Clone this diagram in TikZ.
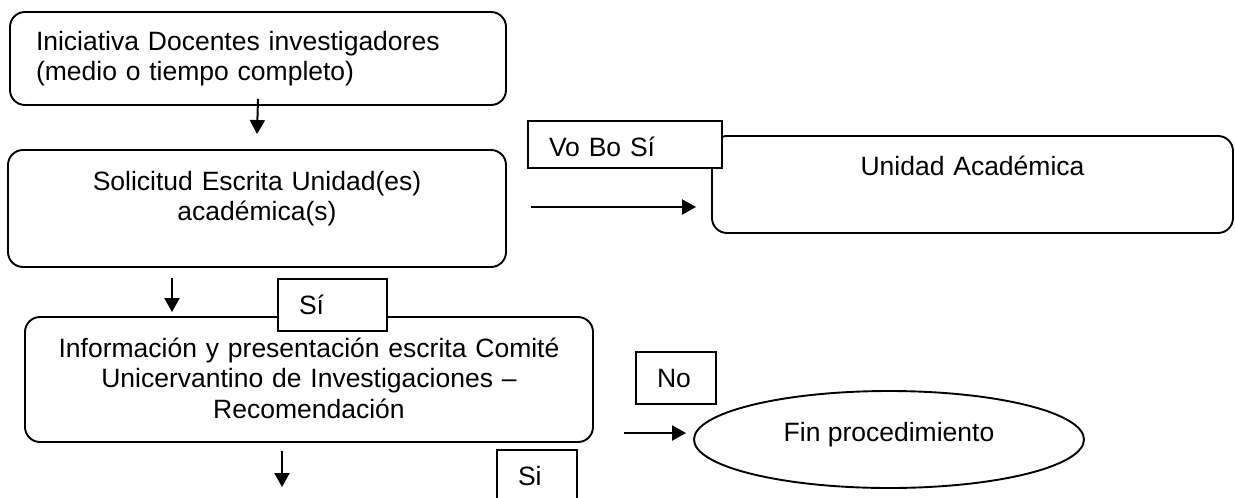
\documentclass[tikz,border=0pt]{standalone}
\usepackage{fontspec}
\setmainfont{Liberation Sans}
\usetikzlibrary{shapes.geometric,arrows.meta}
\begin{document}
\begin{tikzpicture}[x=1pt,y=-1pt,
  font=\fontsize{26.5pt}{30.5pt}\selectfont,
  box/.style={draw,line width=1.9pt,rounded corners=15pt,inner ysep=0pt,text height=20pt},
  lbl/.style={draw,fill=white,line width=1.3pt,inner xsep=21pt,inner ysep=0pt,align=left,text height=28pt},
  arr/.style={-{Triangle[length=14pt,width=15pt]},line width=2pt}
]
\useasboundingbox (0,0) rectangle (1235,498);
% main boxes
\node[box,minimum width=496pt,minimum height=93pt,text width=444pt,inner xsep=26pt,align=left,text depth=37pt]
  (b1) at (258,58.5) {Iniciativa Docentes investigadores\\(medio o tiempo completo)};
\node[box,minimum width=498pt,minimum height=117pt,text width=460pt,inner xsep=19pt,align=center,text depth=57pt]
  (b2) at (257,208.5) {Solicitud Escrita Unidad(es)\\acad\'emica(s)};
\node[box,minimum width=521pt,minimum height=97pt,text width=480pt,inner xsep=20pt,align=center,text depth=39pt]
  (u) at (972.5,184.5) {Unidad Acad\'emica};
\node[box,minimum width=568pt,minimum height=125pt,text width=540pt,inner xsep=14pt,align=center,text depth=65pt]
  (b3) at (309,379.5) {Informaci\'on y presentaci\'on escrita Comit\'e\\Unicervantino de Investigaciones --\\Recomendaci\'on};
\node[draw,ellipse,line width=1.9pt,minimum width=390pt,minimum height=97pt,inner sep=0pt,text height=20pt,text depth=17pt]
  (fin) at (889,439.5) {Fin procedimiento};
% arrows
\draw[arr] ([yshift=7pt]b1.south) -- ([yshift=15pt]b2.north);
\draw[arr] ([xshift=24pt,yshift=1.5pt]b2.east) -- ([xshift=-15pt,yshift=-22.5pt]u.west);
\draw[arr] ([xshift=-85pt,yshift=-10pt]b2.south) -- ([xshift=-137pt,yshift=4pt]b3.north);
\coordinate (e4) at (282,487);
\draw[arr] ([xshift=-27pt,yshift=-8pt]b3.south) -- (e4);
\draw[arr] ([xshift=-69pt,yshift=6.5pt]fin.west) -- ([xshift=-7pt,yshift=6.5pt]fin.west);
% label boxes
\node[lbl,minimum width=194pt,minimum height=47pt,text width=152pt,text depth=5pt] (vobo) at (625,144.5) {Vo Bo S\'i};
\node[lbl,minimum width=109pt,minimum height=52pt,text width=67pt,text depth=10pt] (si1) at (332.5,305) {S\'i};
\node[lbl,minimum width=80pt,minimum height=52pt,text width=38pt,text depth=10pt] (no) at (676,378) {No};
\node[lbl,minimum width=80pt,minimum height=52pt,text width=38pt,text depth=10pt] (si2) at (537,476) {Si};
\end{tikzpicture}
\end{document}
